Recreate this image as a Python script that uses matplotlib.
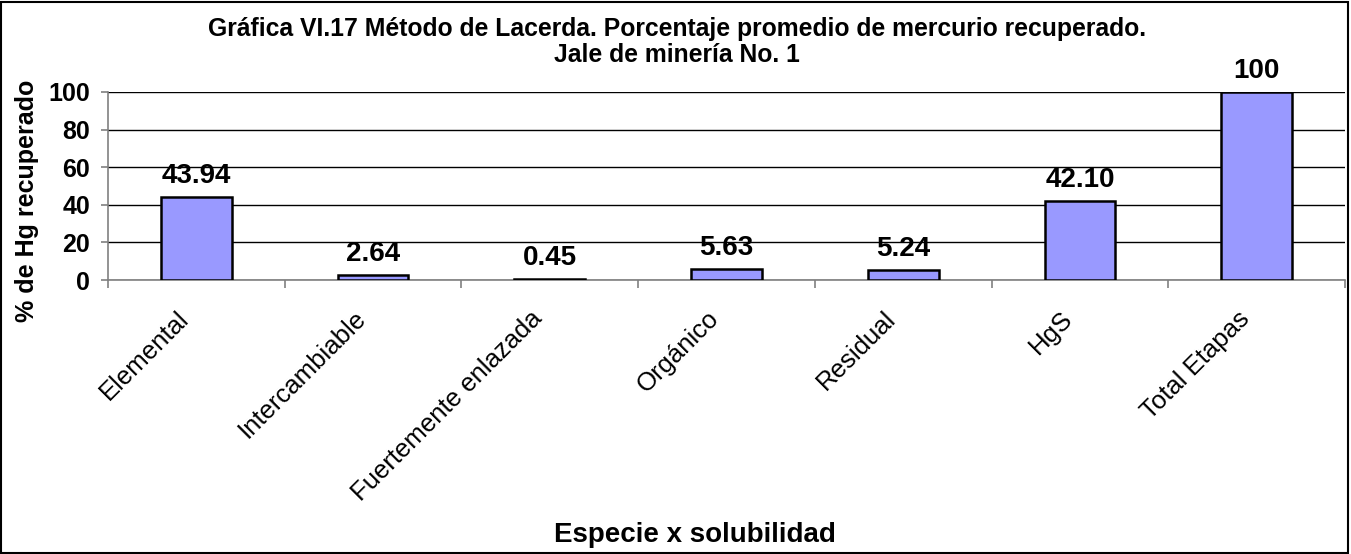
import matplotlib
matplotlib.use("Agg")
import matplotlib.pyplot as plt
from matplotlib.patches import Rectangle
from matplotlib.transforms import ScaledTranslation

categories = ["Elemental", "Intercambiable", "Fuertemente enlazada", "Orgánico",
              "Residual", "HgS", "Total Etapas"]
values = [43.94, 2.64, 0.45, 5.63, 5.24, 42.10, 100]
value_labels = ["43.94", "2.64", "0.45", "5.63", "5.24", "42.10", "100"]
yticks = [0, 20, 40, 60, 80, 100]

plt.rcParams['font.family'] = ['Liberation Sans', 'DejaVu Sans']

W, H = 1351, 554
fig = plt.figure(figsize=(W / 100, H / 100), dpi=100)
ax = fig.add_axes([108 / W, 1 - 280 / H, (1345 - 108) / W, (280 - 92) / H])

x = list(range(len(categories)))
ax.bar(x, values, width=0.40, color="#9999FF", edgecolor="black", linewidth=1.8, zorder=3)

ax.set_xlim(-0.5, len(categories) - 0.5)
ax.set_ylim(0, 100)
ax.set_yticks(yticks)
ax.set_yticklabels([str(v) for v in yticks], fontsize=18, fontweight="bold")
ax.yaxis.grid(True, color="black", linewidth=1.0, zorder=0)
ax.set_axisbelow(True)

# category boundary ticks
ax.set_xticks([i - 0.5 for i in range(len(categories) + 1)])
ax.set_xticklabels([])
ax.set_xticks(x, minor=True)
ax.set_xticklabels(categories, minor=True, rotation=45, ha="right", va="center",
                   rotation_mode="anchor", fontsize=18.5)
ax.tick_params(axis="x", which="minor", length=0, pad=25)
ax.tick_params(axis="x", which="major", length=6, color="#808080", width=1.2)
ax.tick_params(axis="y", length=5, color="#808080", width=1.2, pad=8)

offset = ScaledTranslation(-11 / 100, 0, fig.dpi_scale_trans)
for lab in ax.get_xticklabels(minor=True):
    lab.set_transform(lab.get_transform() + offset)

for s in ["top", "right"]:
    ax.spines[s].set_visible(False)
for s in ["left", "bottom"]:
    ax.spines[s].set_color("#808080")
    ax.spines[s].set_linewidth(1.2)

for xi, v, lab in zip(x, values, value_labels):
    ax.annotate(lab, (xi, v), xytext=(0, 6), textcoords="offset points",
                ha="center", va="bottom", fontsize=20, fontweight="bold",
                annotation_clip=False)

fig.text(27 / W, 1 - 201 / H, "% de Hg recuperado", rotation=90, ha="center", va="center",
         fontsize=18, fontweight="bold")

fig.text(677 / W, 1 - 42 / H,
         "Gráfica VI.17 Método de Lacerda. Porcentaje promedio de mercurio recuperado.\nJale de minería No. 1",
         ha="center", va="center", fontsize=17.8, fontweight="bold", linespacing=1.12)
fig.text(695 / W, 1 - 535 / H, "Especie x solubilidad", ha="center", va="center",
         fontsize=20, fontweight="bold")

fig.patches.append(Rectangle((0.001, 0.002), 0.997, 0.995, transform=fig.transFigure,
                             fill=False, edgecolor="black", linewidth=1.5))

fig.savefig("out.png", dpi=100)
